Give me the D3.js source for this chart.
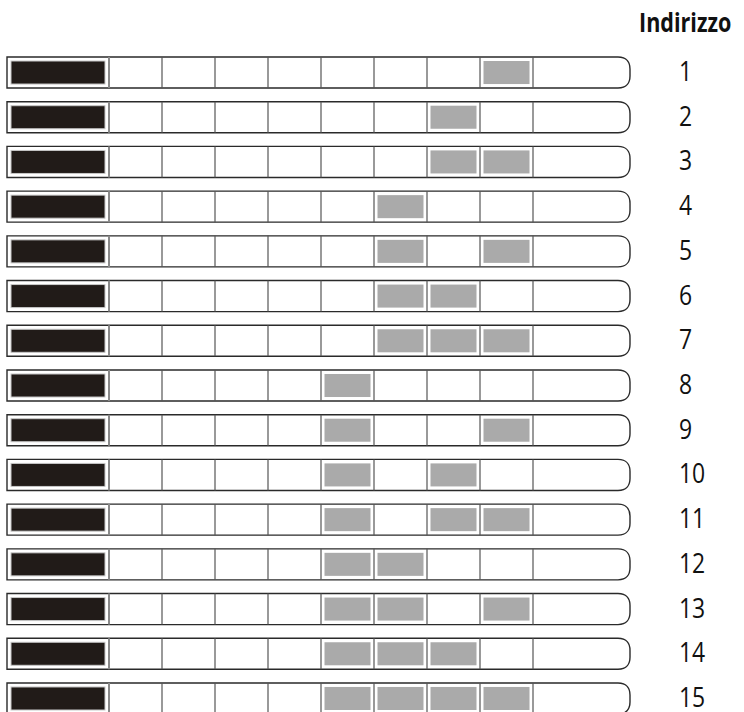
<!DOCTYPE html>
<html>
<head>
<meta charset="utf-8">
<script src="https://cdn.jsdelivr.net/npm/d3@7.9.0/dist/d3.min.js"></script>
<style>
  html, body { margin: 0; padding: 0; background: #fff; }
  svg { display: block; }
  text { font-family: "Open Sans", sans-serif; fill: #111; }
</style>
</head>
<body>
<svg id="chart" width="744" height="712"></svg>
<script>
// address labels, one row each
const addresses = ["1","2","3","4","5","6","7","8","9","10","11","12","13","14","15"];
// switch positions (1..8, left to right) shown grey / "on" for each row
const switchesOn = [
  [8], [7], [7, 8], [6], [6, 8], [6, 7], [6, 7, 8],
  [5], [5, 8], [5, 7], [5, 7, 8], [5, 6], [5, 6, 8], [5, 6, 7], [5, 6, 7, 8]
];
const switchCount = 8;
const headerLabel = "Indirizzo";

const svg = d3.select('#chart');

const left = 7, blockRight = 109, switchRight = 533, right = 630;

let x = d3.scaleLinear().domain([0, switchCount]).range([blockRight, switchRight]);
let y = d3.scaleBand().domain(addresses).range([57, 714]).paddingInner(0.306).paddingOuter(0);
const h = y.bandwidth();
const r = 12;

const rows = svg.selectAll('g.row')
  .data(addresses.map((a, i) => ({ label: a, on: switchesOn[i] })))
  .join('g')
  .attr('class', 'row')
  .attr('transform', d => `translate(0,${y(d.label)})`);

// outline with rounded right end
rows.append('path')
  .attr('d', `M${left},0 H${right - r} C${right - 3},0 ${right},${r - 6} ${right},${r} V${h - r} C${right},${h - r + 6} ${right - 3},${h} ${right - r},${h} H${left} Z`)
  .attr('fill', '#fff')
  .attr('stroke', '#2a2a2a')
  .attr('stroke-width', 1.4);

// black block on the left
rows.append('rect')
  .attr('x', left + 4)
  .attr('y', 4)
  .attr('width', blockRight - left - 8)
  .attr('height', h - 8)
  .attr('fill', '#211b18')
  .attr('stroke', '#c8c8c8')
  .attr('stroke-width', 1);

// grey "on" switches
rows.selectAll('rect.on')
  .data(d => d.on)
  .join('rect')
  .attr('class', 'on')
  .attr('x', k => x(k - 1) + 3.5)
  .attr('y', 4)
  .attr('width', k => x(k) - x(k - 1) - 7)
  .attr('height', h - 8)
  .attr('fill', '#aaaaaa');

// cell dividers
rows.selectAll('line.div')
  .data(d3.range(0, switchCount + 1))
  .join('line')
  .attr('class', 'div')
  .attr('x1', k => x(k))
  .attr('x2', k => x(k))
  .attr('y1', 0)
  .attr('y2', h)
  .attr('stroke', k => k === 0 ? '#8a8a8a' : '#555')
  .attr('stroke-width', k => k === 0 ? 2 : 1.2);

// address numbers
rows.append('text')
  .attr('transform', `translate(679,${h / 2 + 8.5}) scale(0.85,1)`)
  .attr('font-size', 27)
  .text(d => d.label);

svg.append('text')
  .attr('transform', 'translate(639,32) scale(0.83,1)')
  .attr('font-size', 26)
  .attr('font-weight', 'bold')
  .text(headerLabel);
</script>
</body>
</html>
